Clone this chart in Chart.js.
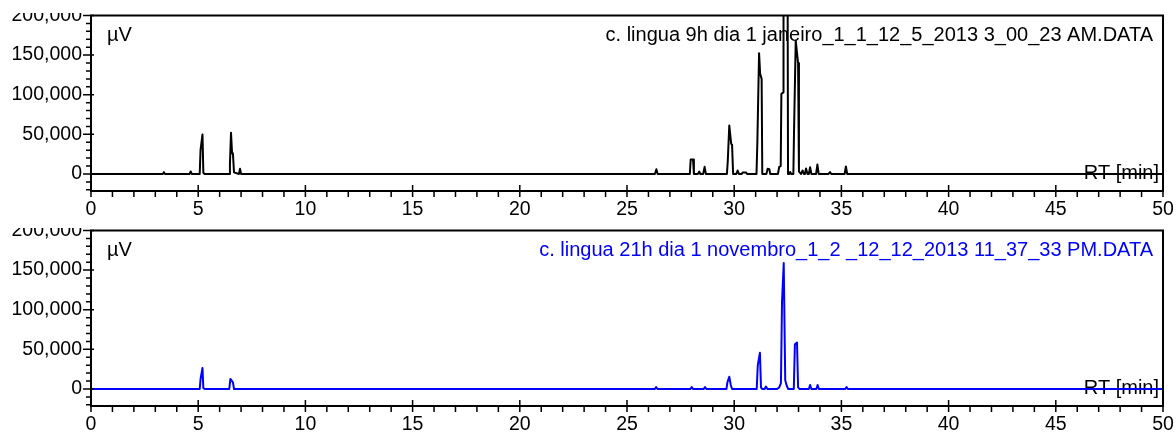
<!DOCTYPE html>
<html>
<head>
<meta charset="utf-8">
<script src="https://cdn.jsdelivr.net/npm/chart.js@4.4.1/dist/chart.umd.min.js"></script>
<style>
  html, body { margin: 0; background: #fff; }
  #wrap { position: relative; width: 1176px; height: 432px; overflow: hidden; }
  .panel { position: absolute; left: 0; width: 1176px; height: 216px; }
</style>
</head>
<body>
<div id="wrap">
  <div class="panel" style="top:0"><canvas id="chart-top" width="1176" height="216"></canvas></div>
  <div class="panel" style="top:215px"><canvas id="chart-bottom" width="1176" height="216"></canvas></div>
</div>
<script>
// Cromatograma 1 (9h, janeiro) - tempo de retenção [min] e sinal [µV]
const topTitle = "c. lingua 9h dia 1 janeiro_1_1_12_5_2013 3_00_23 AM.DATA";
const topRt = [
  0,
  3.35, 3.40, 3.45,
  4.60, 4.65, 4.70,
  5.07, 5.11, 5.20, 5.24, 5.30,
  6.44, 6.48, 6.53, 6.58, 6.62, 6.67, 6.90, 6.95, 7.00,
  26.30, 26.37, 26.43,
  27.93, 27.97, 28.08, 28.12,
  28.30, 28.37, 28.42,
  28.55, 28.62, 28.68,
  29.66, 29.70, 29.77, 29.86, 29.90, 29.95,
  30.10, 30.16, 30.22,
  30.35, 30.40, 30.55, 30.60,
  31.04, 31.08, 31.16, 31.21, 31.28, 31.31,
  31.50, 31.56, 31.64, 31.68,
  32.04, 32.10, 32.17, 32.20, 32.29, 32.30, 32.49, 32.51,
  32.56, 32.61, 32.66,
  32.76, 32.79, 32.87, 32.95, 32.98, 33.02,
  33.12, 33.19, 33.25,
  33.30, 33.35, 33.42,
  33.48, 33.54, 33.60,
  33.82, 33.88, 33.94,
  34.40, 34.47, 34.53,
  35.15, 35.21, 35.27,
  50
];
const topUv = [
  0,
  0, 2300, 0,
  0, 3200, 0,
  0, 30500, 49900, 1500, 0,
  0, 12000, 52000, 26000, 25500, 2000, 0, 6500, 0,
  0, 6000, 0,
  0, 18300, 18300, 0,
  0, 3000, 0,
  0, 9000, 0,
  0, 16000, 61200, 38000, 37000, 0,
  0, 4400, 0,
  0, 2000, 2000, 0,
  0, 40000, 152500, 126500, 120000, 0,
  0, 6500, 6000, 0,
  0, 9000, 10000, 101000, 103000, 260000, 260000, 0,
  0, 2500, 0,
  0, 52800, 168500, 147500, 140000, 3000,
  0, 4400, 0,
  0, 7000, 0,
  0, 8600, 0,
  0, 12000, 0,
  0, 2500, 0,
  0, 9500, 0,
  0
];

// Cromatograma 2 (21h, novembro)
const bottomTitle = "c. lingua 21h dia 1 novembro_1_2 _12_12_2013 11_37_33 PM.DATA";
const bottomRt = [
  0,
  5.07, 5.11, 5.20, 5.24, 5.30,
  6.45, 6.50, 6.55, 6.62, 6.67,
  26.30, 26.36, 26.42,
  27.96, 28.02, 28.08,
  28.58, 28.64, 28.70,
  29.64, 29.68, 29.77, 29.84, 29.90,
  31.05, 31.10, 31.20, 31.25, 31.30,
  31.42, 31.48, 31.55,
  32.00, 32.10, 32.18, 32.23, 32.31, 32.38, 32.45, 32.52,
  32.78, 32.83, 32.93, 32.98, 33.05,
  33.48, 33.54, 33.60,
  33.83, 33.89, 33.95,
  35.18, 35.24, 35.30,
  50
];
const bottomUv = [
  0,
  0, 12600, 26400, 1000, 0,
  0, 12600, 11000, 8300, 0,
  0, 2500, 0,
  0, 2500, 0,
  0, 2500, 0,
  0, 8000, 15500, 5000, 0,
  0, 30000, 45700, 2000, 0,
  0, 3000, 0,
  0, 2000, 7500, 110000, 159000, 11000, 4000, 0,
  0, 56500, 58500, 2000, 0,
  0, 5000, 0,
  0, 5000, 0,
  0, 2500, 0,
  0
];

// eixos
const xMin = 0, xMax = 50, xMinorStep = 1, xMajorStep = 5;
const yMin = -21500, yMax = 200000, yMinorStep = 10000, yMajorStep = 50000;
const yUnitLabel = "µV";
const xUnitLabel = "RT [min]";

const FONT = '"Liberation Sans", Arial, sans-serif';

function stepTicks(from, to, step) {
  const out = [];
  const start = Math.ceil(from / step) * step;
  for (let v = start; v <= to + 1e-9; v += step) out.push({ value: Math.round(v * 1000) / 1000 });
  return out;
}

// moldura + marcas de escala (menores/maiores)
const framePlugin = {
  id: "frame",
  beforeDatasetsDraw(chart, args, opts) {
    const { ctx, chartArea: a, scales } = chart;
    ctx.save();
    ctx.textBaseline = "middle";
    ctx.font = "20px " + FONT;
    ctx.fillStyle = opts.titleColor || "#000";
    ctx.textAlign = "right";
    ctx.fillText(opts.title, a.right - 10, a.top + 20);
    ctx.fillStyle = "#000";
    ctx.textAlign = "left";
    ctx.fillText(yUnitLabel, a.left + 16, a.top + 20);
    ctx.textAlign = "right";
    ctx.fillText(xUnitLabel, a.right - 4, scales.y.getPixelForValue(0));
    ctx.restore();
  },
  afterDraw(chart) {
    const { ctx, chartArea: a, scales } = chart;
    ctx.save();
    // recorte do rótulo superior, como no original
    ctx.fillStyle = "#fff";
    ctx.fillRect(0, 0, a.left - 1, a.top - 2.5);

    ctx.strokeStyle = "#000";
    ctx.lineWidth = 2;
    ctx.strokeRect(a.left, a.top, a.right - a.left, a.bottom - a.top);

    ctx.lineWidth = 1.5;
    ctx.beginPath();
    for (const t of scales.x.ticks) {
      const px = scales.x.getPixelForValue(t.value);
      const major = Math.abs(t.value % xMajorStep) < 1e-6;
      ctx.moveTo(px, major ? a.bottom - 6 : a.bottom);
      ctx.lineTo(px, a.bottom + 6);
    }
    for (const t of scales.y.ticks) {
      const py = scales.y.getPixelForValue(t.value);
      const major = Math.abs(t.value % yMajorStep) < 1e-6;
      ctx.moveTo(major ? a.left - 8 : a.left - 5, py);
      ctx.lineTo(major ? a.left + 3 : a.left, py);
    }
    ctx.stroke();
    ctx.restore();
  }
};

function makeChart(id, rt, uv, title, color) {
  const points = rt.map((x, i) => ({ x, y: uv[i] }));
  return new Chart(document.getElementById(id), {
    type: "line",
    data: {
      datasets: [{
        data: points,
        borderColor: color,
        borderWidth: 2,
        borderJoinStyle: "round",
        pointRadius: 0,
        tension: 0,
        fill: false
      }]
    },
    options: {
      responsive: false,
      animation: false,
      events: [],
      layout: { padding: { top: 15.5, right: 13, left: 0, bottom: 0 } },
      plugins: {
        legend: { display: false },
        tooltip: { enabled: false },
        frame: { title, titleColor: color }
      },
      scales: {
        x: {
          type: "linear",
          min: xMin,
          max: xMax,
          afterBuildTicks: (s) => { s.ticks = stepTicks(xMin, xMax, xMinorStep); },
          afterFit: (s) => { s.height = 25; s.paddingLeft = 0; s.paddingRight = 0; },
          ticks: {
            autoSkip: false,
            maxRotation: 0,
            padding: 7,
            color: "#000",
            font: { family: FONT, size: 19.5 },
            callback: (v) => (Math.abs(v % xMajorStep) < 1e-6 ? String(v) : "")
          },
          grid: { display: true, drawOnChartArea: false, drawTicks: false },
          border: { display: false }
        },
        y: {
          type: "linear",
          min: yMin,
          max: yMax,
          afterBuildTicks: (s) => { s.ticks = stepTicks(yMin, yMax, yMinorStep); },
          afterFit: (s) => { s.width = 91; s.paddingTop = 0; s.paddingBottom = 0; },
          ticks: {
            autoSkip: false,
            padding: 9,
            color: "#000",
            font: { family: FONT, size: 19.5 },
            callback: (v) => (Math.abs(v % yMajorStep) < 1e-6 ? v.toLocaleString("en-US") : "")
          },
          grid: { display: true, drawOnChartArea: false, drawTicks: false },
          border: { display: false }
        }
      }
    },
    plugins: [framePlugin]
  });
}

makeChart("chart-top", topRt, topUv, topTitle, "#000000");
makeChart("chart-bottom", bottomRt, bottomUv, bottomTitle, "#0000ff");
</script>
</body>
</html>
